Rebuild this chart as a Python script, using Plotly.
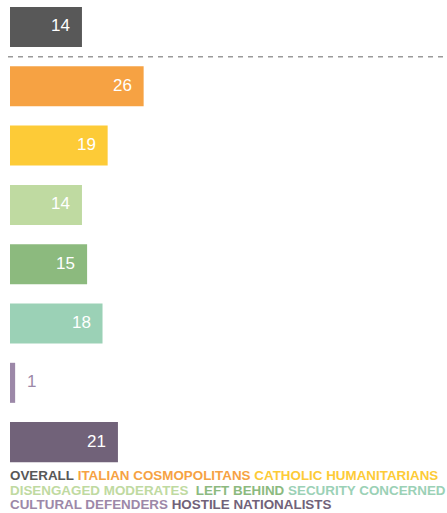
import plotly.graph_objects as go

# Segment shares (%)
groups = [
    "Overall",
    "Italian Cosmopolitans",
    "Catholic Humanitarians",
    "Disengaged Moderates",
    "Left Behind",
    "Security Concerned",
    "Cultural Defenders",
    "Hostile Nationalists",
]
values = [14, 26, 19, 14, 15, 18, 1, 21]
colors = [
    "#585858",
    "#F6A243",
    "#FDCB37",
    "#BFDAA1",
    "#8CBA7E",
    "#9BD1B6",
    "#9C88A8",
    "#716279",
]

W, H = 447, 513
ML, MR, MT, MB = 10, 0, 0, 43
plot_w = W - ML - MR
plot_h = H - MT - MB

fig = go.Figure(
    go.Bar(
        x=values,
        y=groups,
        orientation="h",
        marker=dict(color=colors, line=dict(width=0)),
        hoverinfo="skip",
    )
)

# Value labels: white inside the bar end, or in the bar colour just outside for tiny bars
annotations = []
for g, v, c in zip(groups, values, colors):
    inside = v >= 5
    annotations.append(
        dict(
            x=v,
            y=g,
            xref="x",
            yref="y",
            text=str(v),
            showarrow=False,
            xanchor="right" if inside else "left",
            xshift=-10 if inside else 10,
            yshift=1,
            font=dict(
                family="Liberation Sans, Arial, Helvetica, sans-serif",
                size=17,
                color="#FFFFFF" if inside else c,
            ),
        )
    )

# Colour-coded key below the bars
legend_rows = [
    [0, 1, 2],
    [3, 4, 5],
    [6, 7],
]
row_seps = [" ", "&nbsp; ", " "]
row_centres = [476, 490, 504]
for row, sep, yc in zip(legend_rows, row_seps, row_centres):
    parts = [
        f"<span style='color:{colors[i]}'><b>{groups[i].upper()}</b></span>"
        for i in row
    ]
    if len(parts) == 3:
        text = parts[0] + sep + parts[1] + " " + parts[2]
    else:
        text = sep.join(parts)
    annotations.append(
        dict(
            x=(8 - ML) / plot_w,
            y=(H - MB - yc) / plot_h,
            xref="paper",
            yref="paper",
            text=text,
            showarrow=False,
            xanchor="left",
            yanchor="middle",
            align="left",
            font=dict(
                family="Liberation Sans, Arial, Helvetica, sans-serif",
                size=13.4,
            ),
        )
    )

# Dashed divider between the overall bar and the segments
shapes = [
    dict(
        type="line",
        xref="paper",
        yref="y",
        x0=(8 - ML) / plot_w,
        x1=1,
        y0=0.5,
        y1=0.5,
        line=dict(color="#9A9A9A", width=1.5, dash="5px,5px"),
    )
]

fig.update_layout(
    width=W,
    height=H,
    margin=dict(l=ML, r=MR, t=MT, b=MB, pad=0),
    paper_bgcolor="#FFFFFF",
    plot_bgcolor="#FFFFFF",
    bargap=0.325,
    showlegend=False,
    xaxis=dict(
        range=[0, plot_w / 5.14],
        visible=False,
        fixedrange=True,
    ),
    yaxis=dict(
        type="category",
        categoryorder="array",
        categoryarray=groups,
        range=[7.47, -0.455],
        visible=False,
        fixedrange=True,
    ),
    annotations=annotations,
    shapes=shapes,
)

fig.write_html("out.html", config={"displayModeBar": False})
